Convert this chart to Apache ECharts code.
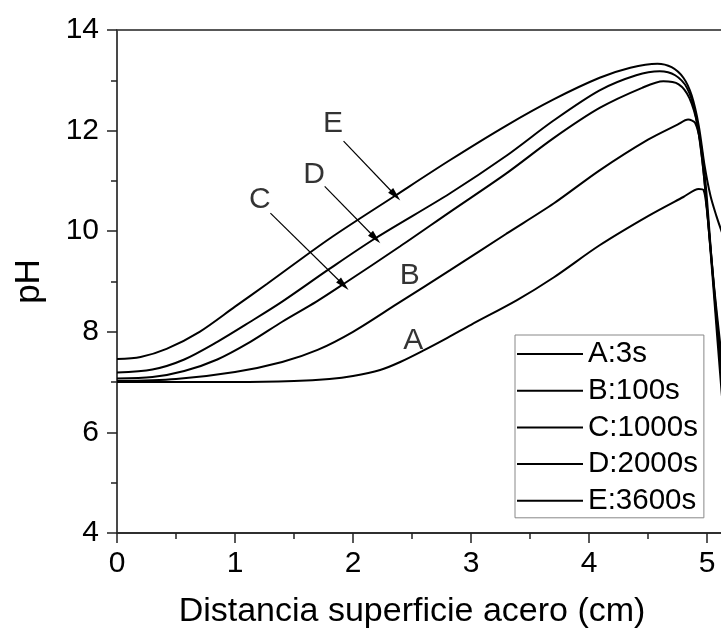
<!DOCTYPE html>
<html>
<head>
<meta charset="utf-8">
<script src="https://cdn.jsdelivr.net/npm/echarts@6/dist/echarts.min.js"></script>
<style>html,body{margin:0;padding:0;background:#fff;overflow:hidden;}#c{width:721px;height:634px;}</style>
</head>
<body>
<div id="c"></div>
<script>
// Data
const seriesNames = ['A:3s', 'B:100s', 'C:1000s', 'D:2000s', 'E:3600s'];
const curveA = [[0,7.0],[0.5,7.0],[1.0,7.0],[1.5,7.02],[1.8,7.06],[2.0,7.12],[2.23,7.24],[2.4,7.4],[2.59,7.62],[2.8,7.88],[3.0,8.14],[3.39,8.63],[3.7,9.08],[4.09,9.72],[4.5,10.3],[4.8,10.68],[4.93,10.84],[4.97,10.82],[5.0,10.4],[5.03,9.6],[5.07,8.4],[5.11,7.2],[5.15,6.1],[5.22,4.6]];
const curveB = [[0,7.02],[0.5,7.06],[1.0,7.2],[1.4,7.4],[1.7,7.64],[2.0,8.0],[2.37,8.55],[2.82,9.22],[3.3,9.95],[3.7,10.55],[4.09,11.21],[4.5,11.82],[4.75,12.12],[4.84,12.22],[4.9,12.15],[4.95,11.7],[4.99,10.9],[5.04,9.4],[5.09,8.0],[5.13,7.0],[5.2,5.6]];
const curveC = [[0,7.07],[0.3,7.1],[0.57,7.22],[0.85,7.45],[1.13,7.8],[1.4,8.2],[1.69,8.6],[1.92,8.95],[2.4,9.7],[2.82,10.38],[3.3,11.15],[3.7,11.85],[4.09,12.45],[4.45,12.85],[4.63,12.98],[4.76,12.92],[4.85,12.65],[4.92,12.1],[4.97,11.2],[5.02,9.9],[5.07,8.6],[5.12,7.4],[5.2,5.8]];
const curveD = [[0,7.19],[0.3,7.25],[0.57,7.45],[0.85,7.8],[1.13,8.2],[1.4,8.6],[1.8,9.25],[2.19,9.86],[2.82,10.75],[3.3,11.5],[3.7,12.2],[4.09,12.8],[4.4,13.1],[4.6,13.18],[4.73,13.1],[4.83,12.85],[4.9,12.35],[4.96,11.4],[5.01,10.2],[5.06,8.9],[5.11,7.8],[5.2,6.0]];
const curveE = [[0,7.46],[0.2,7.5],[0.42,7.66],[0.7,8.0],[1.0,8.5],[1.27,8.95],[1.8,9.85],[2.36,10.71],[2.82,11.41],[3.3,12.1],[3.7,12.62],[4.09,13.05],[4.35,13.25],[4.58,13.33],[4.7,13.26],[4.8,13.05],[4.87,12.7],[4.93,12.1],[4.98,11.3],[5.03,10.7],[5.08,10.3],[5.13,9.95],[5.22,9.3]];
const curves = [curveA, curveB, curveC, curveD, curveE];
const xTicks = {min: 0, max: 6, interval: 1};
const yTicks = {min: 4, max: 14, interval: 2};
// annotation letters [x, pH, text]
const letterLabels = [[2.51,7.82,'A'],[2.48,9.12,'B'],[1.21,10.62,'C'],[1.67,11.12,'D'],[1.83,12.14,'E']];
// arrows [[x1,y1],[x2,y2]]
const arrows = [[[1.30,10.36],[1.92,8.93]],[[1.76,10.89],[2.19,9.86]],[[1.92,11.79],[2.36,10.71]]];

const FONT = 'Liberation Sans, Arial, sans-serif';
const chart = echarts.init(document.getElementById('c'));
const lineSeries = seriesNames.map((n, i) => ({
  name: n, type: 'line', data: curves[i], symbol: 'none', showSymbol: false,
  smooth: 0.3,
  lineStyle: {color: '#000', width: 2}, itemStyle: {color: '#000'},
  z: 3
}));
lineSeries.push({
  name: 'annot', type: 'scatter', data: letterLabels, symbolSize: 0, silent: true,
  label: {show: true, position: 'inside', formatter: p => p.value[2], fontSize: 30, color: '#000', fontFamily: FONT},
  markLine: {
    silent: true, symbol: ['none', 'triangle'], symbolSize: [7, 14],
    label: {show: false},
    lineStyle: {color: '#000', width: 1.2, type: 'solid'},
    data: arrows.map(a => [{coord: a[0]}, {coord: a[1]}])
  }
});
chart.setOption({
  animation: false,
  backgroundColor: '#fff',
  grid: {left: 117, width: 708, top: 30, height: 503, containLabel: false, outerBoundsMode: 'none',
    show: true, borderColor: '#222', borderWidth: 1.5, backgroundColor: 'transparent'},
  legend: {
    data: seriesNames.map(n => ({name: n, icon: 'rect'})), orient: 'vertical', left: 515, top: 335,
    itemWidth: 66, itemHeight: 2, itemGap: 6.7,
    itemStyle: {color: '#000'},
    padding: [4, 6, 2, 2], borderColor: '#888', borderWidth: 1, backgroundColor: '#fff',
    textStyle: {fontSize: 29.5, color: '#000', fontFamily: FONT, lineHeight: 30},
    selectedMode: false
  },
  xAxis: {
    type: 'value', min: xTicks.min, max: xTicks.max, interval: xTicks.interval,
    name: 'Distancia superficie acero (cm)', nameLocation: 'middle', nameGap: 62,
    nameTextStyle: {fontSize: 34, color: '#000', fontFamily: FONT, verticalAlign: 'top', padding: [0, 118, 0, 0]},
    axisLine: {show: true, onZero: false, lineStyle: {color: '#222', width: 1.5}},
    axisTick: {show: true, inside: false, length: 10, lineStyle: {color: '#222', width: 1.5}},
    minorTick: {show: true, splitNumber: 2, length: 6, lineStyle: {color: '#222', width: 1.5}},
    axisLabel: {fontSize: 30, color: '#000', fontFamily: FONT, margin: 16, formatter: v => (v > 5 ? '' : String(v))},
    splitLine: {show: false}
  },
  yAxis: {
    type: 'value', min: yTicks.min, max: yTicks.max, interval: yTicks.interval,
    name: 'pH', nameLocation: 'middle', nameGap: 70,
    nameTextStyle: {fontSize: 35, color: '#000', fontFamily: FONT},
    axisLine: {show: true, onZero: false, lineStyle: {color: '#444', width: 1.5}},
    axisTick: {show: true, inside: false, length: 10, lineStyle: {color: '#222', width: 1.5}},
    minorTick: {show: true, splitNumber: 2, length: 6, lineStyle: {color: '#222', width: 1.5}},
    axisLabel: {fontSize: 30, color: '#000', fontFamily: FONT, margin: 18},
    splitLine: {show: false}
  },
  series: lineSeries
});
</script>
</body>
</html>
